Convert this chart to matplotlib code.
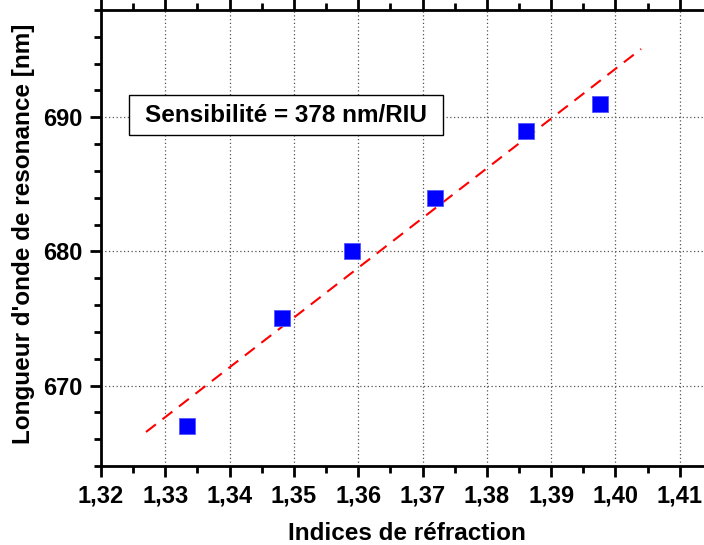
#!/usr/bin/env python3

import matplotlib
matplotlib.use('Agg')
import matplotlib.pyplot as plt
import numpy as np
from matplotlib.patches import Rectangle
from matplotlib.ticker import MultipleLocator, FuncFormatter

# data
indices = [1.3333, 1.3481, 1.3590, 1.3719, 1.3861, 1.3976]
longueur = [667.0, 675.0, 680.0, 684.0, 689.0, 691.0]
fit_range = [1.327, 1.404]
annotation = 'Sensibilité = 378 nm/RIU'

plt.rcParams['font.family'] = ['Liberation Sans', 'DejaVu Sans']
plt.rcParams['font.weight'] = 'bold'

fig = plt.figure(figsize = (7.04, 5.45), dpi = 100)
ax = fig.add_axes([101 / 704, 1 - 466 / 545, 643 / 704, 456 / 545])

slope, intercept = np.polyfit(indices, longueur, 1)
xf = np.array(fit_range)
ax.plot(xf, slope * xf + intercept, color = 'red', linestyle = (0, (6, 4)), linewidth = 1.5, zorder = 3)
ax.plot(indices, longueur, linestyle = 'none', marker = 's', markersize = 11.5,
        color = 'blue', markeredgecolor = '#5555ff', markeredgewidth = 0.6, zorder = 4)

ax.set_xlim((1.32, 1.42))
ax.set_ylim((664, 698))
ax.xaxis.set_major_locator(MultipleLocator(0.01))
ax.xaxis.set_minor_locator(MultipleLocator(0.005))
ax.yaxis.set_major_locator(MultipleLocator(10))
ax.yaxis.set_minor_locator(MultipleLocator(2))
ax.xaxis.set_major_formatter(FuncFormatter(lambda v, p: ('%.2f' % v).replace('.', ',') if v < 1.415 else ''))

ax.grid(True, which = 'major', color = '#555555', linestyle = (0, (1, 2)), linewidth = 0.9)
ax.set_axisbelow(True)

for s in ax.spines.values():
	s.set_linewidth(2)
ax.tick_params(which = 'major', direction = 'out', length = 8, width = 2, labelsize = 17, pad = 5)
ax.tick_params(which = 'minor', direction = 'out', length = 5, width = 2)
ax.tick_params(axis = 'x', top = True, which = 'both')
ax.tick_params(axis = 'x', which = 'major', labeltop = False)
for label in ax.get_xticklabels() + ax.get_yticklabels():
	label.set_fontweight('bold')

ax.set_xlabel('Indices de réfraction', fontsize = 17.5, fontweight = 'bold')
ax.set_ylabel("Longueur d'onde de resonance [nm]", fontsize = 17.5, fontweight = 'bold')
ax.xaxis.set_label_coords(0.476, -0.123)
ax.yaxis.set_label_coords(-0.103, 0.51)

# annotation box
ax.add_patch(Rectangle((1.32435, 688.66), 1.37319 - 1.32435, 691.64 - 688.66,
                       facecolor = 'white', edgecolor = 'black', linewidth = 1, zorder = 5))
ax.text((1.32435 + 1.37319) / 2, 690.15, annotation, fontsize = 17.5, fontweight = 'bold',
        ha = 'center', va = 'center', zorder = 6)

fig.savefig('out.png', dpi = 100)
